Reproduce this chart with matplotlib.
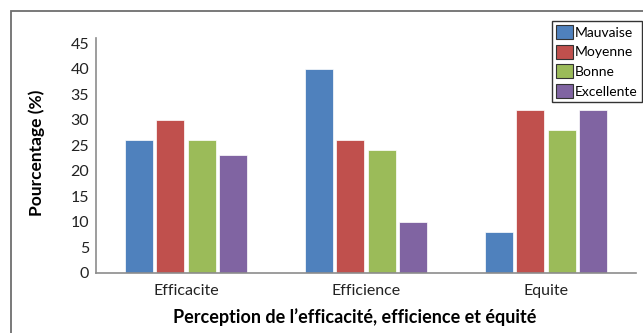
import numpy as np
import matplotlib.pyplot as plt
from matplotlib.patches import Rectangle

plt.rcParams['font.family'] = ['Lato', 'DejaVu Sans']

# Données
categories = ['Efficacite', 'Efficience', 'Equite']
niveaux = ['Mauvaise', 'Moyenne', 'Bonne', 'Excellente']
mauvaise = [26, 40, 8]
moyenne = [30, 26, 32]
bonne = [26, 24, 28]
excellente = [23, 10, 32]
couleurs = ['#4F81BD', '#C0504D', '#9BBB59', '#8064A2']

fig = plt.figure(figsize=(6.43, 3.33), dpi=100)
ax = fig.add_axes([0.1493, 0.1802, 0.8397, 0.7057])

# Cadre autour du graphique
fig.patches.append(Rectangle((11 / 643, -0.1), 1.2, 1.1 - 11 / 333,
                             transform=fig.transFigure, fill=False,
                             edgecolor='#6e6e6e', linewidth=1.3))

x = np.arange(len(categories))
largeur = 0.156
pas = 0.175
series = [mauvaise, moyenne, bonne, excellente]
for i, (vals, nom) in enumerate(zip(series, niveaux)):
    ax.bar(x + (i - 1.5) * pas, vals, largeur, color=couleurs[i], label=nom,
           edgecolor='white', linewidth=0.5)

ax.set_xlim(-0.5, 2.5)
ax.set_ylim(0, 46)
ax.set_yticks(range(0, 46, 5))
ax.set_xticks(x)
ax.set_xticklabels(categories)
ax.tick_params(axis='both', length=0, labelsize=11.5, colors='#222222')
ax.tick_params(axis='y', pad=5)
ax.tick_params(axis='x', pad=8)

for s in ['top', 'right']:
    ax.spines[s].set_visible(False)
for s in ['left', 'bottom']:
    ax.spines[s].set_color('#8c8c8c')
    ax.spines[s].set_linewidth(1.2)

ax.set_ylabel('Pourcentage (%)', fontsize=12.5, fontweight='bold')
ax.yaxis.set_label_coords(-0.094, 0.51)
ax.set_xlabel('Perception de l\u2019efficacité, efficience et équité',
              fontsize=13, fontweight='bold')
ax.xaxis.set_label_coords(0.48, -0.15)

leg = fig.legend(loc='upper left', bbox_to_anchor=(552 / 643, 1 - 21 / 333),
                 fontsize=10, frameon=True, fancybox=False, borderpad=0.3,
                 handlelength=1.2, handleheight=1.2, handletextpad=0.15,
                 labelspacing=0.38, borderaxespad=0)
leg.get_frame().set_edgecolor('black')
leg.get_frame().set_linewidth(1.0)
for h in leg.legend_handles:
    h.set_edgecolor('#333333')
    h.set_linewidth(0.8)

plt.savefig('out.png', dpi=100)
